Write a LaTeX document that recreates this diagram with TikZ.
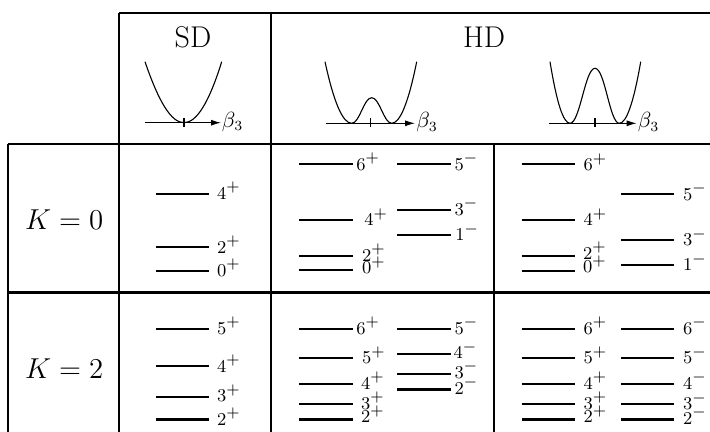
\documentclass[tikz,border=0pt]{standalone}
\usetikzlibrary{arrows.meta}
\newcommand{\pp}[1]{$#1^{\mbox{\fontsize{8.5}{10}\selectfont$+$}}$}
\newcommand{\mm}[1]{$#1^{\mbox{\fontsize{8.5}{10}\selectfont$-$}}$}
% style, x1, x2, y, labelx, labelcy, name, text
\newcommand{\lvl}[8]{%
  \draw[#1] (#2,#4) -- (#3,#4);
  \node[lab] (#7) at (#5,#6+5.8) {#8};}
\begin{document}
\begin{tikzpicture}[x=0.5pt,y=-0.5pt,
  grid/.style={line width=1pt},
  sepline/.style={line width=1.5pt},
  lev/.style={line width=0.9pt},
  levthick/.style={line width=1.4pt},
  pot/.style={line width=0.55pt},
  ax/.style={line width=0.55pt,-{Latex[length=5pt,width=3pt]}},
  lab/.style={anchor=base west,inner sep=0pt,font=\fontsize{9}{10}\selectfont},
  big/.style={inner sep=0pt,anchor=base,font=\fontsize{15}{18}\selectfont},
  blab/.style={anchor=base west,inner sep=0pt,font=\fontsize{10.5}{12}\selectfont},
]
\useasboundingbox (0,0) rectangle (710,432);
\clip (0,0) rectangle (710,432);

% table
\draw[grid] (119,13) -- (712,13);
\draw[grid] (119,13) -- (119,440);
\draw[grid] (271,13) -- (271,440);
\draw[grid] (8,144) -- (712,144);
\draw[grid] (8,144) -- (8,440);
\draw[grid] (494,144) -- (494,440);
\draw[sepline] (8,292) -- (712,292);

% headers
\node[big] (sd) at (193,47.5) {SD};
\node[big] (hd) at (484,48) {HD};
\node[big] (k0) at (64.2,230) {$K=0$};
\node[big] (k2) at (64.2,378) {$K=2$};

% SD potential
\draw[ax] (145,122.7) -- (221,122.7);
\draw[pot] (184,118.3) -- (184,127);
\draw[pot] (145,61.7) .. controls (158.9,102.4) and (171.4,122.7) .. (184,122.7)
  .. controls (196.6,122.7) and (209.1,102.4) .. (221.7,61.7);
\node[blab] (b1) at (221.5,127.5) {$\beta_3$};

% HD left potential
\draw[ax] (326,123.3) -- (415,123.3);
\draw[pot] (370.7,118.3) -- (370.7,127.5);
\draw[pot] (325,61.7) .. controls (333.9,102.8) and (342.8,123.3) .. (351.7,123.3)
  .. controls (359.7,123.3) and (363.7,97.7) .. (371.7,97.7)
  .. controls (379.7,97.7) and (383.7,123.3) .. (391.7,123.3)
  .. controls (400,123.3) and (408.4,102.8) .. (416.7,61.7);
\node[blab] (b2) at (416,128) {$\beta_3$};

% HD right potential
\draw[ax] (549.3,123.3) -- (636.7,123.3);
\draw[pot] (595,118.3) -- (595,127.5);
\draw[pot] (550,61.7) .. controls (556.7,102.8) and (563.3,123.3) .. (570,123.3)
  .. controls (580,123.3) and (585,68.3) .. (595,68.3)
  .. controls (605,68.3) and (609.6,123.3) .. (619.3,123.3)
  .. controls (626.4,123.3) and (633.6,102.8) .. (640.7,61.7);
\node[blab] (b3) at (637.5,128) {$\beta_3$};

% ---- K=0, SD
\lvl{lev}{156}{209}{194.3}{216.7}{193.5}{a4}{\pp4}
\lvl{lev}{156}{209}{247.3}{216.7}{247.5}{a2}{\pp2}
\lvl{lev}{156}{209}{270.7}{216.7}{270.5}{a0}{\pp0}

% ---- K=0, HD left
\lvl{lev}{299.3}{352.7}{164.3}{356}{164.3}{b6}{\pp6}
\lvl{lev}{299.3}{352.7}{220}{364}{220}{b4}{\pp4}
\lvl{lev}{299.3}{352.7}{256}{361.7}{255.5}{b2p}{\pp2}
\lvl{lev}{299.3}{352.7}{270.3}{361.7}{268}{b0}{\pp0}
\lvl{lev}{397.3}{450.7}{164.3}{454.3}{164.3}{b5m}{\mm5}
\lvl{lev}{397.3}{450.7}{209.7}{454.3}{209.3}{b3m}{\mm3}
\lvl{lev}{397.3}{450.7}{235}{455}{235}{b1m}{\mm1}

% ---- K=0, HD right
\lvl{lev}{521.7}{575}{164.3}{583.3}{165}{c6}{\pp6}
\lvl{lev}{521.7}{575}{219.7}{583.3}{220}{c4}{\pp4}
\lvl{lev}{521.7}{575}{256}{582.7}{253.3}{c2}{\pp2}
\lvl{lev}{521.7}{575}{270.7}{582.7}{266.9}{c0}{\pp0}
\lvl{lev}{621}{674.3}{194.3}{682.7}{194.3}{c5m}{\mm5}
\lvl{lev}{621}{674.3}{240.3}{682.7}{240}{c3m}{\mm3}
\lvl{levthick}{621}{674.3}{265}{682.7}{265}{c1m}{\mm1}

% ---- K=2, SD
\lvl{lev}{156}{209}{328.7}{216.7}{328.7}{d5}{\pp5}
\lvl{lev}{156}{209}{366.3}{216.7}{366.3}{d4}{\pp4}
\lvl{lev}{156}{209}{396.7}{216.7}{396}{d3}{\pp3}
\lvl{levthick}{156}{209}{419.3}{216.7}{419.3}{d2}{\pp2}

% ---- K=2, HD left
\lvl{lev}{299.3}{352.7}{328.7}{356}{328.7}{e6}{\pp6}
\lvl{lev}{299.3}{352.7}{358}{361.7}{358}{e5}{\pp5}
\lvl{lev}{299.3}{352.7}{383.7}{360.7}{383.7}{e4}{\pp4}
\lvl{levthick}{299.3}{352.7}{404}{360.7}{403.3}{e3}{\pp3}
\lvl{levthick}{299.3}{352.7}{419.3}{360.7}{416.9}{e2}{\pp2}
\lvl{lev}{397.3}{450.7}{328.7}{454.3}{328.7}{e5m}{\mm5}
\lvl{lev}{397.3}{450.7}{353.7}{453.3}{353}{e4m}{\mm4}
\lvl{levthick}{397.3}{450.7}{374}{454.3}{372.3}{e3m}{\mm3}
\lvl{levthick}{397.3}{450.7}{389.3}{454.3}{388.3}{e2m}{\mm2}

% ---- K=2, HD right
\lvl{lev}{521.7}{575}{328.7}{583.3}{328.7}{f6}{\pp6}
\lvl{lev}{521.7}{575}{358}{583.3}{358}{f5}{\pp5}
\lvl{lev}{521.7}{575}{383.7}{583.3}{383.7}{f4}{\pp4}
\lvl{levthick}{521.7}{575}{404}{583.3}{403.3}{f3}{\pp3}
\lvl{levthick}{521.7}{575}{419.3}{583.3}{416.9}{f2}{\pp2}
\lvl{lev}{621}{674.3}{328.7}{682.7}{328.7}{f6m}{\mm6}
\lvl{lev}{621}{674.3}{358}{682.7}{358}{f5m}{\mm5}
\lvl{lev}{621}{674.3}{383.7}{682.7}{383.7}{f4m}{\mm4}
\lvl{levthick}{621}{674.3}{404}{682.7}{404}{f3m}{\mm3}
\lvl{levthick}{621}{674.3}{419.3}{682.7}{418.3}{f2m}{\mm2}
\end{tikzpicture}
\end{document}
